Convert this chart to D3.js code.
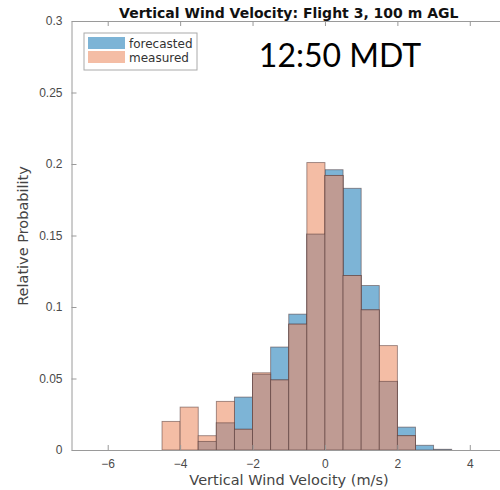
<!DOCTYPE html>
<html>
<head>
<meta charset="utf-8">
<script src="https://cdn.jsdelivr.net/npm/d3@7"></script>
<style>
  body { margin: 0; background: #fff; }
  svg { display: block; font-family: "DejaVu Sans", sans-serif; }
</style>
</head>
<body>
<svg width="500" height="490"></svg>
<script>
// bin left edges, bin width 0.5 m/s
const binStarts = [-4.5, -4, -3.5, -3, -2.5, -2, -1.5, -1, -0.5, 0, 0.5, 1, 1.5, 2, 2.5, 3];
const binWidth = 0.5;
const forecasted = [0, 0, 0.006, 0.019, 0.037, 0.053, 0.072, 0.095, 0.151, 0.196, 0.183, 0.115, 0.048, 0.016, 0.0033, 0.0005];
const measured  = [0.020, 0.030, 0.010, 0.034, 0.0145, 0.054, 0.049, 0.088, 0.201, 0.192, 0.122, 0.098, 0.073, 0.010, 0, 0];
const xTicks = [-6, -4, -2, 0, 2, 4];
const yTicks = [0, 0.05, 0.1, 0.15, 0.2, 0.25, 0.3];

const svg = d3.select('svg');
const plot = { left: 71.5, right: 506, top: 21, bottom: 450 };

const x = d3.scaleLinear().domain([-7, 5]).range([plot.left, plot.right]);
const y = d3.scaleLinear().domain([0, 0.3]).range([plot.bottom, plot.top]);

const data = binStarts.map((b, i) => ({ b, f: forecasted[i], m: measured[i] }));

const blue = '#7db4d6', salmon = '#f4bda5', both = '#bf9b93';

const bars = svg.append('g');
const drawBars = (acc, fill) => {
    bars.append('g').selectAll('rect').data(data.filter(d => acc(d) > 0))
        .enter().append('rect')
        .attr('x', d => x(d.b))
        .attr('width', d => x(d.b + binWidth) - x(d.b))
        .attr('y', d => y(acc(d)))
        .attr('height', d => y(0) - y(acc(d)))
        .attr('fill', fill)
        .attr('stroke', '#4a3030')
        .attr('stroke-opacity', 0.55)
        .attr('stroke-width', 0.9);
};
drawBars(d => d.f, blue);
drawBars(d => d.m, salmon);
drawBars(d => Math.min(d.f, d.m), both);

// axes, MATLAB style with inward ticks
const styleAxis = g => {
    g.selectAll('path').attr('stroke', '#9a9a9a');
    g.selectAll('line').attr('stroke', '#9a9a9a');
    g.selectAll('text').attr('fill', '#4a4a4a').attr('font-size', 12);
};

svg.append('g')
    .attr('transform', `translate(0,${plot.bottom})`)
    .call(d3.axisBottom(x).tickValues(xTicks).tickSize(-5).tickSizeOuter(0).tickPadding(9))
    .call(styleAxis);
svg.append('g')
    .attr('transform', `translate(0,${plot.top})`)
    .call(d3.axisTop(x).tickValues(xTicks).tickSize(-5).tickSizeOuter(0).tickFormat(''))
    .call(styleAxis);
svg.append('g')
    .attr('transform', `translate(${plot.left},0)`)
    .call(d3.axisLeft(y).tickValues(yTicks).tickSize(-5).tickSizeOuter(0).tickPadding(9)
        .tickFormat(d3.format('~g')))
    .call(styleAxis);
svg.append('g')
    .attr('transform', `translate(${plot.right},0)`)
    .call(d3.axisRight(y).tickValues(yTicks).tickSize(-5).tickSizeOuter(0).tickFormat(''))
    .call(styleAxis);

// title and labels
svg.append('text')
    .attr('x', (plot.left + plot.right) / 2).attr('y', 18)
    .attr('text-anchor', 'middle')
    .attr('font-weight', 'bold').attr('font-size', 14).attr('fill', '#111')
    .text('Vertical Wind Velocity: Flight 3, 100 m AGL');

svg.append('text')
    .attr('x', 289).attr('y', 485)
    .attr('text-anchor', 'middle')
    .attr('font-size', 14.5).attr('fill', '#444')
    .text('Vertical Wind Velocity (m/s)');

svg.append('text')
    .attr('transform', 'translate(28,236) rotate(-90)')
    .attr('text-anchor', 'middle')
    .attr('font-size', 14.5).attr('fill', '#444')
    .text('Relative Probability');

// legend
const lg = svg.append('g');
lg.append('rect').attr('x', 84).attr('y', 33).attr('width', 113).attr('height', 37)
    .attr('fill', '#fff').attr('stroke', '#aaa');
const legendItems = [['forecasted', blue], ['measured', salmon]];
legendItems.forEach(([name, c], i) => {
    lg.append('rect').attr('x', 88).attr('y', 37 + i * 14).attr('width', 37).attr('height', 12)
        .attr('fill', c);
    lg.append('text').attr('x', 129).attr('y', 47.5 + i * 14)
        .attr('font-size', 12).attr('fill', '#333').text(name);
});

svg.append('text')
    .attr('x', 340).attr('y', 67)
    .attr('text-anchor', 'middle')
    .attr('font-family', 'Lato, "Open Sans", sans-serif')
    .attr('font-size', 32).attr('fill', '#000')
    .text('12:50 MDT');
</script>
</body>
</html>
